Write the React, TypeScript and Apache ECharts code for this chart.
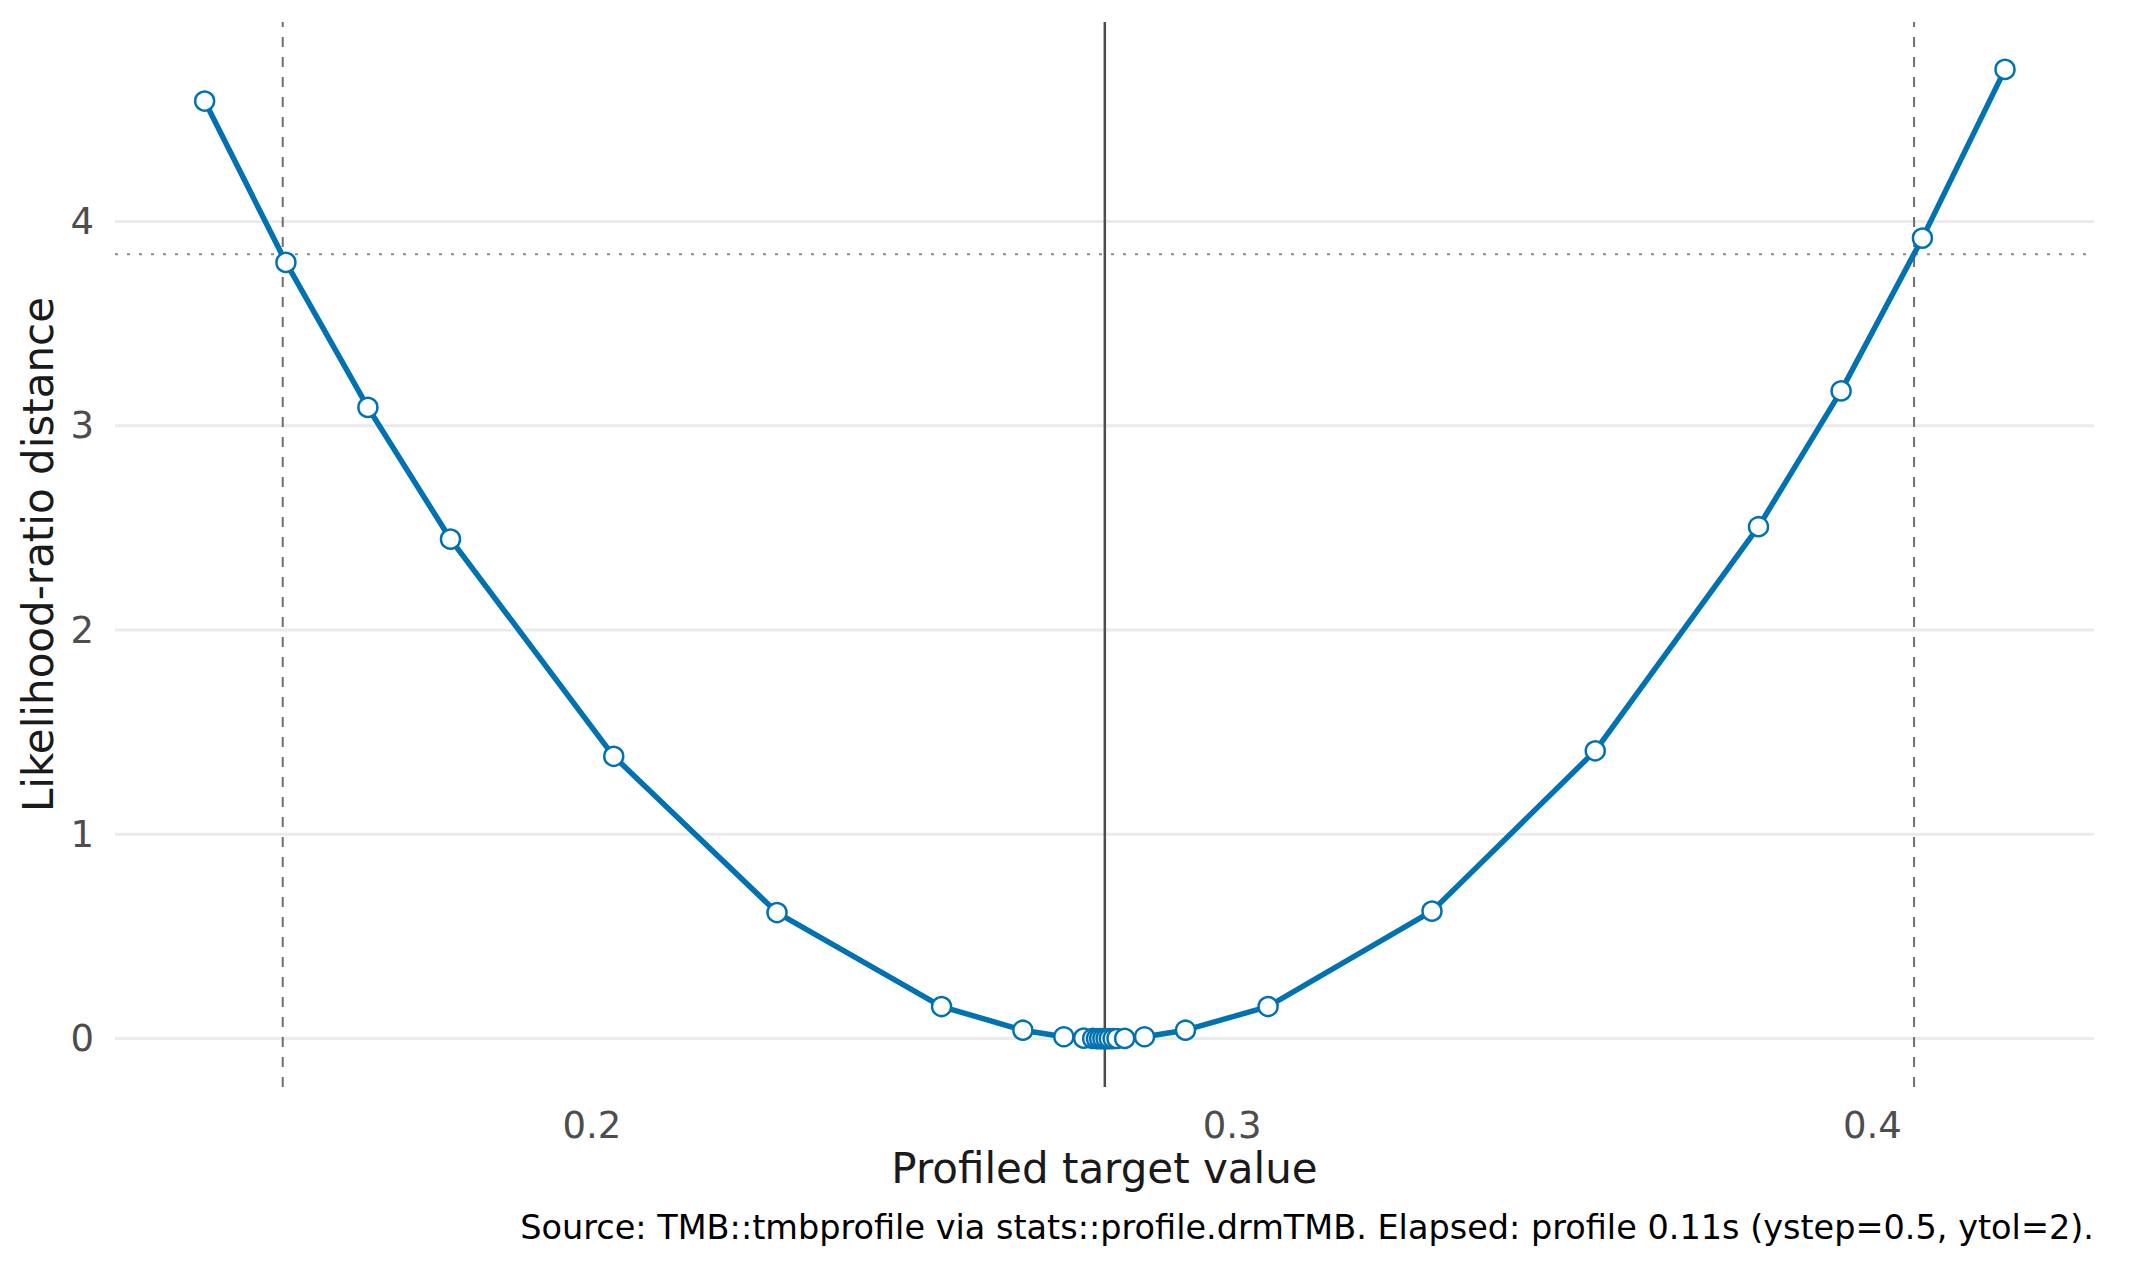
import React, { useEffect, useRef } from "react";
import * as echarts from "echarts";

// Profile points: target value vs. likelihood-ratio distance
const profileX = [
  0.1395, 0.1522, 0.165, 0.1779, 0.2034, 0.2289, 0.2546, 0.2673, 0.2737, 0.2768,
  0.2782, 0.2788, 0.2793, 0.2798, 0.2803, 0.2808, 0.2814, 0.282, 0.2832, 0.2863,
  0.2927, 0.3056, 0.3312, 0.3567, 0.3822, 0.3951, 0.4078, 0.4207,
];
const profileY = [
  4.59, 3.8, 3.09, 2.445, 1.382, 0.617, 0.157, 0.041, 0.009, 0.002,
  0.0006, 0.0002, 0.0001, 0, 0, 0.0001, 0.0002, 0.0005, 0.001, 0.009,
  0.041, 0.157, 0.624, 1.409, 2.506, 3.171, 3.919, 4.745,
];

// Reference lines
const estimate = 0.2801;
const ciBounds = [0.1517, 0.4065];
const chiSqCutoff = 3.84;

// Axis ticks and limits
const xTicks = [0.2, 0.3, 0.4];
const yTicks = [0, 1, 2, 3, 4];
const xLimits = [0.1255, 0.4346];
const yLimits = [-0.237, 4.977];

const captionText =
  "Source: TMB::tmbprofile via stats::profile.drmTMB. Elapsed: profile 0.11s (ystep=0.5, ytol=2).";

const FONT = "DejaVu Sans";
const BLUE = "#0072B2";

// a straight segment drawn as its own line series
function segment(points: number[][], color: string, width: number, type: any, z: number) {
  return {
    type: "line",
    data: points,
    symbol: "none",
    silent: true,
    z,
    lineStyle: { color, width, type },
    emphasis: { disabled: true },
  };
}

export default function App() {
  const ref = useRef<HTMLDivElement>(null);

  useEffect(() => {
    if (!ref.current) return;
    const chart = echarts.init(ref.current, null, { renderer: "svg" });
    const gridLeft = 115;
    const gridRight = 37;
    const gridTop = 22;
    const gridBottom = 180;
    const W = 2131;
    const H = 1267;

    const gridSeries = yTicks.map((v) =>
      segment([[xLimits[0], v], [xLimits[1], v]], "#EBEBEB", 3, "solid", 1)
    );
    const ciSeries = ciBounds.map((v) =>
      segment([[v, yLimits[0]], [v, yLimits[1]]], "#6E6E6E", 2, [10, 10], 2)
    );
    const cutoffSeries = segment(
      [[xLimits[0], chiSqCutoff], [xLimits[1], chiSqCutoff]],
      "#8A8A8A", 2, [3, 9], 2
    );
    const estimateSeries = segment(
      [[estimate, yLimits[0]], [estimate, yLimits[1]]],
      "#4D4D4D", 2.5, "solid", 2
    );

    chart.setOption({
      animation: false,
      backgroundColor: "#ffffff",
      grid: { left: gridLeft, right: gridRight, top: gridTop, bottom: gridBottom, containLabel: false },
      xAxis: {
        type: "value",
        min: xLimits[0],
        max: xLimits[1],
        axisLine: { show: false },
        axisTick: { show: false, customValues: xTicks },
        splitLine: { show: false },
        axisLabel: {
          customValues: xTicks,
          formatter: (v: number) => v.toFixed(1),
          fontFamily: FONT,
          fontSize: 37,
          color: "#4D4D4D",
          margin: 20,
        },
      },
      yAxis: {
        type: "value",
        min: yLimits[0],
        max: yLimits[1],
        axisLine: { show: false },
        axisTick: { show: false, customValues: yTicks },
        splitLine: { show: false },
        axisLabel: {
          customValues: yTicks,
          formatter: (v: number) => String(v),
          fontFamily: FONT,
          fontSize: 37,
          color: "#4D4D4D",
          margin: 21,
        },
      },
      series: [
        ...gridSeries,
        ...ciSeries,
        cutoffSeries,
        estimateSeries,
        {
          type: "line",
          z: 3,
          data: profileX.map((x, i) => [x, profileY[i]]),
          lineStyle: { color: BLUE, width: 5.5 },
          symbol: "circle",
          symbolSize: 19,
          showAllSymbol: true,
          itemStyle: { color: "#ffffff", borderColor: BLUE, borderWidth: 2.5 },
          emphasis: { disabled: true },
        },
      ],
      graphic: [
        {
          type: "text",
          x: (gridLeft + (W - gridRight)) / 2,
          y: 1168,
          style: {
            text: "Profiled target value",
            fontFamily: FONT,
            fontSize: 42,
            fill: "#1A1A1A",
            align: "center",
            verticalAlign: "middle",
          },
        },
        {
          type: "text",
          x: 38,
          y: (gridTop + (H - gridBottom)) / 2,
          rotation: Math.PI / 2,
          style: {
            text: "Likelihood-ratio distance",
            fontFamily: FONT,
            fontSize: 42,
            fill: "#1A1A1A",
            align: "center",
            verticalAlign: "middle",
          },
        },
        {
          type: "text",
          x: W - gridRight,
          y: 1227,
          style: {
            text: captionText,
            fontFamily: FONT,
            fontSize: 33.5,
            fill: "#000000",
            align: "right",
            verticalAlign: "middle",
          },
        },
      ],
    });

    return () => chart.dispose();
  }, []);

  return (
    <div
      ref={ref}
      style={{ position: "absolute", left: 0, top: 0, width: 2131, height: 1267 }}
    />
  );
}
